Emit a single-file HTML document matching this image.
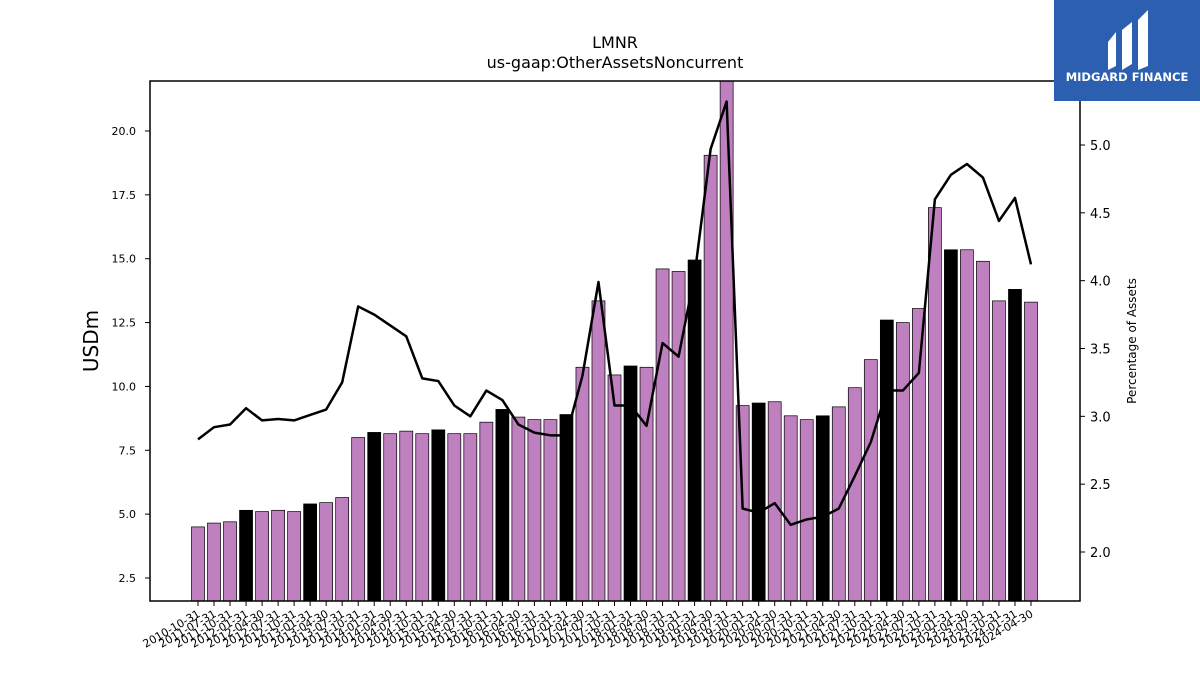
<!DOCTYPE html>
<html><head><meta charset="utf-8"><style>
body{margin:0;background:#fff;font-family:"Liberation Sans","DejaVu Sans",sans-serif}
svg text{font-family:"DejaVu Sans","Liberation Sans",sans-serif}
</style></head><body>
<svg id="chart" width="1200" height="675" xmlns="http://www.w3.org/2000/svg">
<rect width="1200" height="675" fill="#fff"/>
<text x="615" y="48" font-size="16" text-anchor="middle">LMNR</text>
<text x="615" y="68" font-size="16" text-anchor="middle">us-gaap:OtherAssetsNoncurrent</text>
<g id="bars"></g>
<g id="line"></g>
<rect x="150" y="81" width="930" height="520" fill="none" stroke="#000" stroke-width="1.5"/>
<g id="laxis"></g>
<g id="raxis"></g>
<g id="xaxis"></g>
<text transform="translate(98,341) rotate(-90)" font-size="20" text-anchor="middle">USDm</text>
<text transform="translate(1136,341) rotate(-90)" font-size="12" text-anchor="middle">Percentage of Assets</text>
<g>
<rect x="1054" y="0" width="146" height="101" fill="#2d5fb0"/>
<path d="M1108 42 L1116 32 L1116 66 L1108 70 Z M1122 30 L1132 22 L1132 64 L1122 70 Z M1138 20 L1148 10 L1148 66 L1138 70 Z" fill="#fff"/>
<text x="1127" y="81" font-size="11.5" font-weight="bold" fill="#fff" text-anchor="middle">MIDGARD FINANCE</text>
</g>
</svg>
<script>
const categories=["2010-10-31","2011-07-31","2011-10-31","2012-01-31","2012-04-30","2012-07-31","2012-10-31","2013-01-31","2013-04-30","2013-07-31","2013-10-31","2014-01-31","2014-04-30","2014-07-31","2014-10-31","2015-01-31","2015-04-30","2015-07-31","2015-10-31","2016-01-31","2016-04-30","2016-07-31","2016-10-31","2017-01-31","2017-04-30","2017-07-31","2017-10-31","2018-01-31","2018-04-30","2018-07-31","2018-10-31","2019-01-31","2019-04-30","2019-07-31","2019-10-31","2020-01-31","2020-04-30","2020-07-31","2020-10-31","2021-01-31","2021-04-30","2021-07-31","2021-10-31","2022-01-31","2022-04-30","2022-07-31","2022-10-31","2023-01-31","2023-04-30","2023-07-31","2023-10-31","2024-01-31","2024-04-30"];
const barValues=[4.5,4.65,4.7,5.15,5.1,5.15,5.1,5.4,5.45,5.65,8.0,8.2,8.15,8.25,8.15,8.3,8.15,8.15,8.6,9.1,8.8,8.7,8.7,8.9,10.75,13.35,10.45,10.8,10.75,14.6,14.5,14.95,19.05,23.0,9.25,9.35,9.4,8.85,8.7,8.85,9.2,9.95,11.05,12.6,12.5,13.05,17.0,15.35,15.35,14.9,13.35,13.8,13.3];
const pctValues=[2.83,2.92,2.94,3.06,2.97,2.98,2.97,3.01,3.05,3.25,3.81,3.75,3.67,3.59,3.28,3.26,3.08,3.0,3.19,3.12,2.94,2.88,2.86,2.86,3.30,3.99,3.08,3.08,2.93,3.54,3.44,4.04,4.97,5.32,2.32,2.29,2.36,2.20,2.24,2.26,2.32,2.56,2.81,3.19,3.19,3.32,4.60,4.78,4.86,4.76,4.44,4.61,4.12];
const leftTicks=[2.5,5.0,7.5,10.0,12.5,15.0,17.5,20.0];
const rightTicks=[2.0,2.5,3.0,3.5,4.0,4.5,5.0];
const NS="http://www.w3.org/2000/svg";
const T=150,B=601,L=150,R=1080;
const yL=v=>578-(v-2.5)*(447/17.5);
const yR=v=>552-(v-2.0)*(407/3.0);
const xC=i=>198+i*(833/(categories.length-1));
function mk(tag,attrs,parent){const e=document.createElementNS(NS,tag);for(const k in attrs)e.setAttribute(k,attrs[k]);parent.appendChild(e);return e;}
const bars=document.getElementById('bars');
const clip=mk('clipPath',{id:'pc'},document.getElementById('chart'));
mk('rect',{x:L,y:81,width:R-L,height:B-81},clip);
bars.setAttribute('clip-path','url(#pc)');
barValues.forEach((v,i)=>{
 const top=yL(v);
 const r=mk('rect',{x:xC(i)-6.5,y:top,width:13,height:B-top,fill:(i%4===3)?'#000':'#bf80bf',stroke:'#000','stroke-width':0.7},bars);
 
 
});
const line=document.getElementById('line');
line.setAttribute('clip-path','url(#pc)');
const p=mk('polyline',{points:pctValues.map((v,i)=>xC(i)+','+yR(v)).join(' '),fill:'none',stroke:'#000','stroke-width':2.5,'stroke-linejoin':'round'},line);


const la=document.getElementById('laxis');
leftTicks.forEach(v=>{const y=yL(v);
 mk('line',{x1:L-5,x2:L,y1:y,y2:y,stroke:'#000'},la);
 const t=mk('text',{x:L-14,y:y+4,'font-size':11,'text-anchor':'end'},la);t.textContent=v.toFixed(1);
 
 });
const ra=document.getElementById('raxis');
rightTicks.forEach(v=>{const y=yR(v);
 mk('line',{x1:R,x2:R+5,y1:y,y2:y,stroke:'#000'},ra);
 const t=mk('text',{x:R+10,y:y+5,'font-size':13},ra);t.textContent=v.toFixed(1);
 
 });
const xa=document.getElementById('xaxis');
categories.forEach((c,i)=>{const x=xC(i);
 mk('line',{x1:x,x2:x,y1:B,y2:B+5,stroke:'#000'},xa);
 const t=mk('text',{transform:`translate(${x+3},${B+15}) rotate(-30)`,'font-size':11,'text-anchor':'end'},xa);t.textContent=c;
 
 });
</script>
</body></html>
